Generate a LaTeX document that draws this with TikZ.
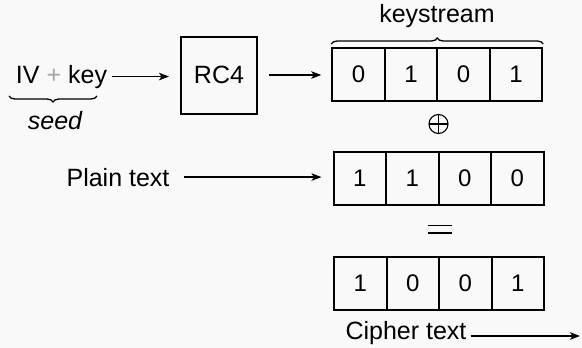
\documentclass[tikz,border=0pt]{standalone}
\usepackage{fontspec}
\setmainfont{Liberation Sans}
\usetikzlibrary{arrows.meta,decorations.pathreplacing}
\begin{document}
\begin{tikzpicture}[x=1pt,y=-1pt,
  lbl/.style={inner sep=0pt, font=\fontsize{25}{30}\selectfont},
  cell/.style={draw, line width=2pt, minimum width=52.5pt, minimum height=53pt,
               inner sep=0pt, font=\fontsize{24}{28}\selectfont},
  rcbox/.style={draw, line width=2pt, minimum width=76pt, minimum height=77pt,
               inner sep=0pt, font=\fontsize{25}{30}\selectfont},
  arr/.style={line width=1.5pt, -{Stealth[length=10pt,width=7.5pt,inset=2.5pt]}},
  brc/.style={decorate, decoration={brace, amplitude=6pt}, line width=1.3pt},
  xorop/.style={circle, draw, line width=1.1pt, minimum size=19pt, inner sep=0pt,
               path picture={\draw[line width=1.1pt]
                 (path picture bounding box.north) -- (path picture bounding box.south)
                 (path picture bounding box.west) -- (path picture bounding box.east);}},
  eqop/.style={minimum width=24pt, minimum height=8pt, inner sep=0pt,
               path picture={\draw[line width=1.3pt]
                 (path picture bounding box.north west) -- (path picture bounding box.north east)
                 (path picture bounding box.south west) -- (path picture bounding box.south east);}}]
% paper
\fill[gray!5] (0,0) rectangle (582,348);
\useasboundingbox (0,0) rectangle (582,348);

% seed and generator
\node[lbl, anchor=base] (iv) at (61.5,83) {IV {\color{gray!70}+} key};
\coordinate (sl) at (97,96);
\coordinate (sr) at (9,96);
\draw[brc] (sl) -- (sr);
\node[lbl, anchor=base] (seed) at (55,129) {\itshape seed};
\node[rcbox] (rc4) at (219,75) {RC4};

% keystream, plain text, cipher text registers
\foreach \v [count=\i] in {0,1,0,1}
  \node[cell] (k\i) at ({332.25+52.5*(\i-0.5)},74.5) {\v};
\foreach \v [count=\i] in {1,1,0,0}
  \node[cell] (p\i) at ({333.5+52.5*(\i-0.5)},178) {\v};
\foreach \v [count=\i] in {1,0,0,1}
  \node[cell] (c\i) at ({334+52.5*(\i-0.5)},283.5) {\v};

\draw[brc] ([yshift=3pt]k1.north west) -- ([yshift=3pt]k4.north east);
\node[lbl, anchor=base] (ks) at (437,22) {keystream};

\node[xorop] (xor) at (438.5,124) {};
\node[eqop] (eq) at (440,229) {};

\node[lbl, anchor=base] (plain) at (118,186) {Plain text};
\node[lbl, anchor=base] (cipher) at (406,339) {Cipher text};
\coordinate (out) at (580,336);

% connectors
\draw[arr, shorten <=5pt, shorten >=11pt] (iv.east) -- (iv.east -| rc4.west);
\draw[arr, shorten <=11pt, shorten >=10pt] (rc4.east) -- (rc4.east -| k1.west);
\draw[arr, shorten <=14pt, shorten >=11pt] (plain.east) -- (plain.east -| p1.west);
\draw[arr, shorten <=4pt] (cipher.east |- out) -- (out);
\end{tikzpicture}
\end{document}
